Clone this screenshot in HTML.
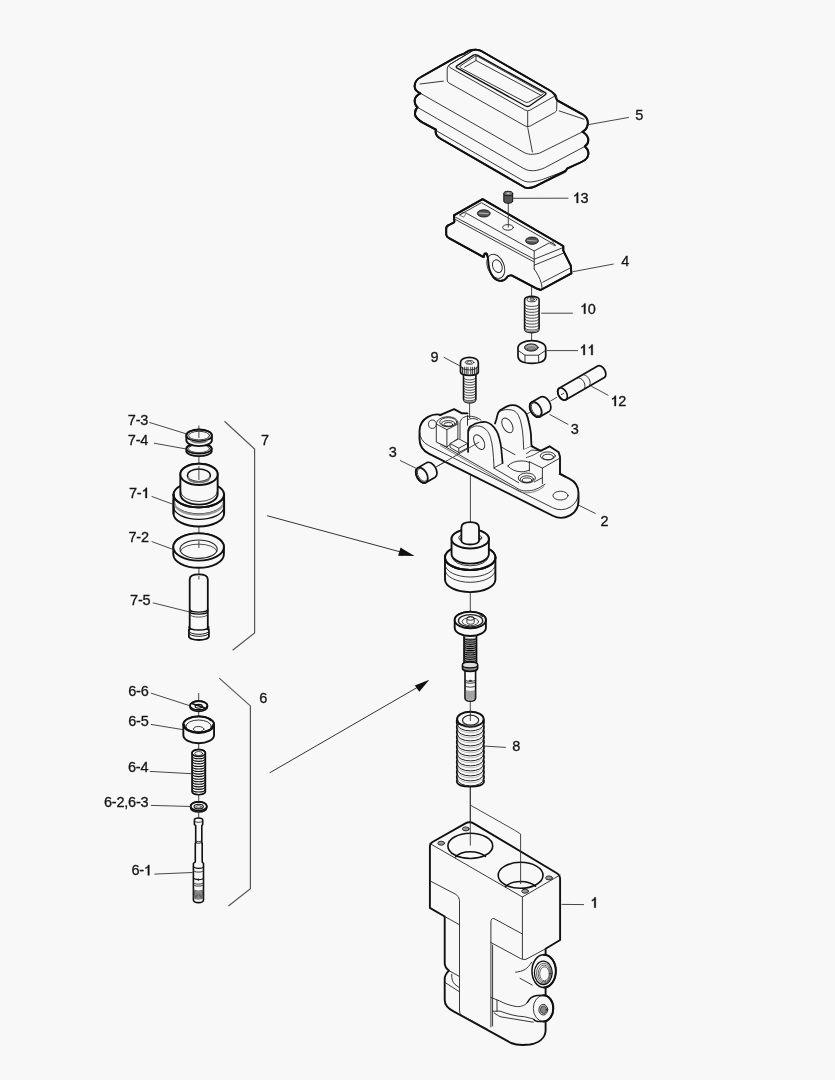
<!DOCTYPE html>
<html><head><meta charset="utf-8"><style>
html,body{margin:0;padding:0;background:#f8f8f8;}
svg{display:block;}
text{font-family:"Liberation Sans",sans-serif;font-size:14.5px;letter-spacing:-0.2px;fill:#151515;stroke:#151515;stroke-width:0.3px;}
.o{stroke:#111;stroke-width:1.9;fill:#f8f8f8;stroke-linejoin:round;stroke-linecap:round;}
.t{stroke:#222;stroke-width:0.9;fill:none;stroke-linejoin:round;stroke-linecap:round;}
.f{stroke:#222;stroke-width:0.9;fill:#f8f8f8;stroke-linejoin:round;}
.l{stroke:#333;stroke-width:0.9;fill:none;}
.b{stroke:#555;stroke-width:1.2;fill:none;}
.d{fill:#555;stroke:#111;stroke-width:0.9;}
</style></head><body>
<svg width="835" height="1080" viewBox="0 0 835 1080">
<rect width="835" height="1080" fill="#f8f8f8"/>

<path d="M420.4,93.3 C416.5,91.5 414.5,89 414.6,86 C414.7,82 417,79 421,77 L456.5,56.8 C460,55 462,54.5 464,53.8 C467,51 471,49.6 476,49.7 C478.5,49.8 480,50.3 481.7,51.2 L549,90 C552.5,92 555.5,94 556,98.5 L557.2,100.3 L582.5,114.3 C586.5,117 588.5,121 587.6,125 C587,128 585,130.5 582.5,131.8 C586,134 588.5,137 588.3,140.5 C588.2,143 587,145 584.9,146.4 C587.5,148.5 588.6,151 588.4,154 C588,158 585,160.5 581.5,162 L567,168.7 L566,170.7 L535.8,186.2 C532,188 528,188.6 524.5,187.3 L441,139 C437.5,137 435.5,134.5 435.6,131.5 L435.9,129.6 L423.7,123.2 C419,120.5 415.5,118 415,114.5 C414.7,111 415.5,109 417.6,107.4 C415.2,105.5 414.5,103 414.7,100.2 C415,97.5 417,95 420.4,93.3 Z" class="o" />
<path d="M420.4,93.3 L524,152.5 C527,154 530,154.5 532.3,154.3 C535,154.2 537.5,153.7 539.7,153.1 L582.5,131.8" class="t" />
<path d="M417.6,107.4 L524,168.7 C527,170.3 530.5,170.9 533.5,170.7 C537,170.5 541,169.5 544.6,167.8 L584.9,146.4" class="t" />
<path d="M436,130.5 L522.8,180.5 C525.5,181.8 529,182.2 532,181.9 C536,181.3 539.5,180.5 542.6,179.4 L566,170.7" class="t" />
<path d="M565.5,172.3 L548,180.6" class="t" />
<line x1="420.1" y1="84" x2="443.4" y2="81.1" class="t"/>
<line x1="559.2" y1="110.9" x2="584" y2="119.2" class="t"/>
<path d="M527.9,128.5 L532.4,152" class="t" />
<path d="M447.2,69 Q447.2,66 449.77,64.46 L472.87,50.65 Q476.3,48.6 479.77,50.59 L554.4,93.31 Q557,94.8 556.93,97.8 L556.65,109.5 Q556.6,111.5 554.85,112.46 L530.33,125.95 Q527.7,127.4 525.09,125.93 L448.94,82.98 Q447.2,82 447.2,80 Z" class="f" />
<path d="M449.81,67.48 Q447.2,66 449.77,64.46 L472.87,50.65 Q476.3,48.6 479.77,50.59 L554.4,93.31 Q557,94.8 554.39,96.29 L530.31,110.01 Q527.7,111.5 525.09,110.02 Z" class="t" />
<line x1="527.7" y1="111.5" x2="527.7" y2="127.4" class="t"/>
<path d="M457.29,68.21 Q455.1,67 457.2,65.64 L473.1,55.36 Q475.2,54 477.39,55.21 L544.81,92.39 Q547,93.6 544.96,95.04 L529.74,105.76 Q527.7,107.2 525.51,105.99 Z" class="t" style="stroke-width:1.4;stroke:#111"/>
<path d="M460.47,67.93 Q458.7,67 460.37,65.89 L474.33,56.61 Q476,55.5 477.75,56.48 L542.45,92.62 Q544.2,93.6 542.44,94.56 L528.76,102.04 Q527,103 525.23,102.07 Z" class="t" />
<polyline points="464.5,67.2 476,60.5 541,95.3" class="t"/>
<line x1="476" y1="55.5" x2="476" y2="60.5" class="t"/>
<path d="M420.4,93.3 C416.5,91.5 414.5,89 414.6,86 C414.7,82 417,79 421,77 L456.5,56.8 C460,55 462,54.5 464,53.8 C467,51 471,49.6 476,49.7 C478.5,49.8 480,50.3 481.7,51.2 L549,90 C552.5,92 555.5,94 556,98.5 L557.2,100.3 L582.5,114.3 C586.5,117 588.5,121 587.6,125 C587,128 585,130.5 582.5,131.8 C586,134 588.5,137 588.3,140.5 C588.2,143 587,145 584.9,146.4 C587.5,148.5 588.6,151 588.4,154 C588,158 585,160.5 581.5,162 L567,168.7 L566,170.7 L535.8,186.2 C532,188 528,188.6 524.5,187.3 L441,139 C437.5,137 435.5,134.5 435.6,131.5 L435.9,129.6 L423.7,123.2 C419,120.5 415.5,118 415,114.5 C414.7,111 415.5,109 417.6,107.4 C415.2,105.5 414.5,103 414.7,100.2 C415,97.5 417,95 420.4,93.3 Z" class="o" style="fill:none"/>
<path d="M453.9,215.4 L482.6,199.1 L561.1,244.7 L563.3,246.3 L563.3,250.7 L570.8,265.7 L571.4,273.3 L540.7,290 L536.3,288.4 L511.6,275.4 C509,275 507.5,276 506,278.5 C504,281 500,281.5 497,280 C492,277.5 489,270 488.5,264 C488.2,260 488.5,257 486.5,253.5 L484.6,253.8 L483.6,257.1 L449,238.2 C447,237 446.2,236 446.2,234.5 L446.2,228.5 C446.3,226.5 447.5,225.5 449,225 L453.6,222.6 L454.4,221.6 Z" class="o" />
<ellipse cx="495.8" cy="266.3" rx="8.2" ry="12.6" transform="rotate(-22 495.8 266.3)" class="f"/>
<ellipse cx="497.3" cy="266.2" rx="4.6" ry="6.6" transform="rotate(-22 497.3 266.2)" class="t"/>
<polyline points="460.3,214.6 481.4,202.7 555.7,245.3" class="t"/>
<polyline points="466.5,213.3 534.2,251 549,243" class="t"/>
<polyline points="455.5,217.2 534.2,259.2 563.3,247.5" class="t"/>
<line x1="455.5" y1="219.6" x2="534.2" y2="262" class="t"/>
<line x1="534.2" y1="251" x2="534.2" y2="269" class="t"/>
<line x1="534.2" y1="265.2" x2="564.4" y2="252.8" class="t"/>
<path d="M534.2,269 C537,273 540,278 541.5,284 L542.3,289.5" class="t" />
<line x1="542.8" y1="282.2" x2="569.8" y2="268.2" class="t"/>
<path d="M459.6,214.9 L462.5,212.5 L466.3,213 L464,216.8 Z" class="t" style="stroke-width:0.6"/>
<path d="M550,243.2 L553,241.6 L555,245.6 Z" class="t" style="stroke-width:0.6"/>
<ellipse cx="483.8" cy="213.4" rx="6.4" ry="3.6" class="d" />
<path d="M479.3,213.1 L488.3,213.7" class="t" style="stroke:#aaa;stroke-width:1.2"/>
<ellipse cx="532" cy="240.7" rx="6.4" ry="3.6" class="d" />
<path d="M527.5,240.4 L536.5,241" class="t" style="stroke:#aaa;stroke-width:1.2"/>
<ellipse cx="508" cy="227.4" rx="5.4" ry="2.8" class="t" />
<path d="M453.9,215.4 L482.6,199.1 L561.1,244.7 L563.3,246.3 L563.3,250.7 L570.8,265.7 L571.4,273.3 L540.7,290 L536.3,288.4 L511.6,275.4 C509,275 507.5,276 506,278.5 C504,281 500,281.5 497,280 C492,277.5 489,270 488.5,264 C488.2,260 488.5,257 486.5,253.5 L484.6,253.8 L483.6,257.1 L449,238.2 C447,237 446.2,236 446.2,234.5 L446.2,228.5 C446.3,226.5 447.5,225.5 449,225 L453.6,222.6 L454.4,221.6 Z" class="o" style="fill:none"/>
<line x1="508.3" y1="203" x2="508.3" y2="227.5" class="l"/>
<path d="M503.8,193.5 L503.8,201 A4.45,2.2 0 0 0 512.7,201 L512.7,193.5 Z" fill="#555" stroke="#111" stroke-width="1"/>
<ellipse cx="508.25" cy="193.5" rx="4.45" ry="2.2" class="t" style="fill:#777;stroke:#111;stroke-width:1"/>
<path d="M506.3,193.2 L508.2,192.3 L510.2,193.2 L508.2,194.4 Z" class="t" style="fill:#bbb;stroke:none"/>
<line x1="531.6" y1="287" x2="531.6" y2="296.5" class="l"/>
<line x1="531.6" y1="332.5" x2="531.6" y2="341" class="l"/>
<path d="M524.6,299.6 L524.6,328.5 Q524.8,332.6 531.85,332.6 Q538.9,332.6 539.1,328.5 L539.1,299.6 A7.25,3.3 0 0 0 524.6,299.6 Z" class="o" style="stroke-width:1.6"/>
<path d="M525,304.5 A6.9,2.2 0 0 0 538.7,304.5" class="t" style="stroke-width:0.8"/>
<path d="M525,307.45 A6.9,2.2 0 0 0 538.7,307.45" class="t" style="stroke-width:0.8"/>
<path d="M525,310.4 A6.9,2.2 0 0 0 538.7,310.4" class="t" style="stroke-width:0.8"/>
<path d="M525,313.35 A6.9,2.2 0 0 0 538.7,313.35" class="t" style="stroke-width:0.8"/>
<path d="M525,316.3 A6.9,2.2 0 0 0 538.7,316.3" class="t" style="stroke-width:0.8"/>
<path d="M525,319.25 A6.9,2.2 0 0 0 538.7,319.25" class="t" style="stroke-width:0.8"/>
<path d="M525,322.2 A6.9,2.2 0 0 0 538.7,322.2" class="t" style="stroke-width:0.8"/>
<path d="M525,325.15 A6.9,2.2 0 0 0 538.7,325.15" class="t" style="stroke-width:0.8"/>
<path d="M525,328.1 A6.9,2.2 0 0 0 538.7,328.1" class="t" style="stroke-width:0.8"/>
<path d="M525.5,330 A6.5,2 0 0 0 538.2,330" class="t" style="stroke:#888;stroke-width:1.6"/>
<ellipse cx="531.85" cy="299.6" rx="4.8" ry="2.2" class="t" />
<ellipse cx="532.2" cy="299.4" rx="2.3" ry="1.2" class="t" style="fill:#aaa;stroke-width:0.6"/>
<path d="M518,347.8 L518,356.5 Q518.5,363.3 531.85,363.3 Q545.2,363.3 545.7,356.5 L545.7,347.8 A13.85,7.2 0 0 0 518,347.8 Z" class="o" style="stroke-width:1.7"/>
<polyline points="518.2,350.5 525,355.2 538.6,355.2 545.5,350.5" class="t"/>
<line x1="525" y1="355.2" x2="525" y2="362.2" class="t"/>
<line x1="538.6" y1="355.2" x2="538.6" y2="362.2" class="t"/>
<ellipse cx="531.3" cy="347.5" rx="6.8" ry="3.6" class="t" style="fill:#8a8a8a;stroke:#111;stroke-width:1"/>
<path d="M527,347.2 A4.3,1.8 0 0 1 535.6,347.2" class="t" style="stroke:#ccc;stroke-width:0.8"/>
<path d="M527.2,348.6 A4.1,1.8 0 0 0 535.4,348.6" class="t" style="stroke:#444;stroke-width:0.8"/>
<line x1="469.6" y1="402.8" x2="469.6" y2="418" class="l"/>
<path d="M463.5,374 L463.5,399 Q463.8,402.9 469.7,402.9 Q475.6,402.9 475.9,399 L475.9,374 Z" class="o" style="stroke-width:1.6"/>
<path d="M463.9,378.2 A5.8,1.7 0 0 0 475.5,378.2" class="t" style="stroke-width:0.8"/>
<path d="M463.9,380.8 A5.8,1.7 0 0 0 475.5,380.8" class="t" style="stroke-width:0.8"/>
<path d="M463.9,383.4 A5.8,1.7 0 0 0 475.5,383.4" class="t" style="stroke-width:0.8"/>
<path d="M463.9,386 A5.8,1.7 0 0 0 475.5,386" class="t" style="stroke-width:0.8"/>
<path d="M463.9,388.6 A5.8,1.7 0 0 0 475.5,388.6" class="t" style="stroke-width:0.8"/>
<path d="M463.9,391.2 A5.8,1.7 0 0 0 475.5,391.2" class="t" style="stroke-width:0.8"/>
<path d="M463.9,393.8 A5.8,1.7 0 0 0 475.5,393.8" class="t" style="stroke-width:0.8"/>
<path d="M463.9,396.4 A5.8,1.7 0 0 0 475.5,396.4" class="t" style="stroke-width:0.8"/>
<path d="M463.9,399 A5.8,1.7 0 0 0 475.5,399" class="t" style="stroke-width:0.8"/>
<path d="M464.5,400.3 A5.2,1.6 0 0 0 474.9,400.3" class="t" style="stroke:#888;stroke-width:1.5"/>
<path d="M460.5,362.4 L460.5,372 Q461,375.3 469.4,375.3 Q477.8,375.3 478.3,372 L478.3,362.4 A8.9,5 0 0 0 460.5,362.4 Z" class="o" style="stroke-width:1.7"/>
<line x1="462.5" y1="367.2" x2="462.5" y2="374.3" class="t"/>
<line x1="464.3" y1="367.2" x2="464.3" y2="374.3" class="t"/>
<line x1="466.2" y1="367.2" x2="466.2" y2="374.3" class="t"/>
<line x1="468" y1="367.2" x2="468" y2="374.3" class="t"/>
<line x1="470.8" y1="367.2" x2="470.8" y2="374.3" class="t"/>
<line x1="472.6" y1="367.2" x2="472.6" y2="374.3" class="t"/>
<line x1="474.5" y1="367.2" x2="474.5" y2="374.3" class="t"/>
<line x1="476.3" y1="367.2" x2="476.3" y2="374.3" class="t"/>
<path d="M460.8,366.5 A8.6,3.4 0 0 0 478,366.5" class="t" />
<ellipse cx="469.5" cy="362.4" rx="4.3" ry="1.9" class="t" />
<path d="M467.3,361.9 L469.5,361.1 L471.6,361.9 L471.6,362.9 L469.5,363.7 L467.3,362.9 Z" class="t" style="stroke-width:0.6;fill:#eee"/>
<line x1="436" y1="467" x2="479" y2="442.3" class="l"/>
<line x1="514" y1="421.5" x2="530" y2="412.3" class="l"/>
<line x1="550.5" y1="401" x2="557" y2="397.2" class="l"/>
<path d="M531.5,402.23 L540.68,396.93 A5.21,8.4 -30 0 1 549.08,411.47 L539.9,416.77 A5.21,8.4 -30 0 1 531.5,402.23 Z" class="o" style="stroke-width:1.7"/>
<ellipse cx="535.7" cy="409.5" rx="5.21" ry="8.4" transform="rotate(-30 535.7 409.5)" class="t" style="stroke-width:1.6;stroke:#111"/>
<ellipse cx="536.3" cy="409.2" rx="4.2" ry="7" transform="rotate(-30 536.3 409.2)" class="t" style="stroke-width:0.8"/>
<path d="M417.6,467.93 L426.78,462.63 A5.21,8.4 -30 0 1 435.18,477.17 L426,482.47 A5.21,8.4 -30 0 1 417.6,467.93 Z" class="o" style="stroke-width:1.7"/>
<ellipse cx="421.8" cy="475.2" rx="5.21" ry="8.4" transform="rotate(-30 421.8 475.2)" class="t" style="stroke-width:1.6;stroke:#111"/>
<ellipse cx="422.4" cy="474.9" rx="4.2" ry="7" transform="rotate(-30 422.4 474.9)" class="t" style="stroke-width:0.8"/>
<path d="M559.15,388.2 L597.69,365.95 A4.15,6.7 -30 0 1 604.39,377.55 L565.85,399.8 A4.15,6.7 -30 0 1 559.15,388.2 Z" class="o" style="stroke-width:1.7"/>
<ellipse cx="562.5" cy="394" rx="4.15" ry="6.7" transform="rotate(-30 562.5 394)" class="t" style="stroke-width:1.6;stroke:#111"/>
<path d="M576.9,377.95 A4.15,6.7 -30 0 1 583.6,389.55" class="t" />
<path d="M582.1,374.95 A4.15,6.7 -30 0 1 588.8,386.55" class="t" />
<line x1="561" y1="394.8" x2="564" y2="393.2" class="l"/>
<path d="M445.22,416.43 L569.22,478.63 A17.5,16.5 0 0 1 578.50,493.20 L578.50,501.20 A17.5,16.5 0 0 1 552.78,515.77 L428.78,453.57 A17.5,16.5 0 0 1 419.50,439.00 L419.50,431.00 A17.5,16.5 0 0 1 445.22,416.43 Z" class="o" />
<path d="M578.50,493.20 A17.5,16.5 0 0 1 552.78,507.77 L428.78,445.57 A17.5,16.5 0 0 1 419.50,431.00" class="t" />
<path d="M437.8,442.4 L514.4,486.6 C518,489 521,490.6 523.6,490.8 C528,491.1 531,490.7 533.7,490 C537,489 540,487.5 542,486 L545,484.3" class="t" />
<path d="M440.5,445.6 L513.5,488.3 C517.5,491 521,492.6 524,492.8 C528.5,493 532,492.5 535,491.5 C538.5,490.3 541.5,488.5 544,486.5" class="t" style="stroke:#555;stroke-width:0.7"/>
<ellipse cx="560.5" cy="495.6" rx="7.6" ry="4.4" class="t" />
<ellipse cx="432.5" cy="424.2" rx="4" ry="4.2" class="t" />
<path d="M441.6,414.6 L454.1,409.1 L462,413.3 L462,428 L441.6,428 Z" class="f" style="stroke:none"/>
<polyline points="440,415.2 454.1,409.1 462,413.3 467.5,413.4" class="o"/>
<path d="M495,423.5 L496.4,419.2 C497,416.5 497.5,414.5 498.3,412.5 C499.5,410.5 501,409.5 503.1,408.6 C505.5,407 507.5,406 509.8,405.3 C511.5,405 513.8,405 515.6,405.3 C517.8,406 519.8,407.2 521.3,408.6 C523.3,410.2 525,411.8 526.1,413.4 C527.5,416.5 528.4,419.5 529,423 C529.8,426.5 530.5,430 530.9,433.5 L531.4,445 L532.8,446.9 L536,470 L500,470 L495,440 Z" class="f" style="stroke:none"/>
<path d="M495,423.5 L496.4,419.2 C497,416.5 497.5,414.5 498.3,412.5 C499.5,410.5 501,409.5 503.1,408.6 C505.5,407 507.5,406 509.8,405.3 C511.5,405 513.8,405 515.6,405.3 C517.8,406 519.8,407.2 521.3,408.6 C523.3,410.2 525,411.8 526.1,413.4 C527.5,416.5 528.4,419.5 529,423 C529.8,426.5 530.5,430 530.9,433.5 L531.4,445 L532.8,446.9" class="o" style="fill:none;stroke-width:1.8"/>
<path d="M499.3,411.6 C501.5,410.2 504.5,409.5 507.9,409.6 C510,409.6 512,410 513.6,410.5 C515.5,411.5 517.2,413.2 518.4,415.3 C519.8,418 520.7,421 521.3,424 C522.3,428.5 522.9,433.5 523.2,438.3 L523.7,449.8" class="t" />
<ellipse cx="507.4" cy="425.4" rx="4.62" ry="8" transform="rotate(-30 507.4 425.4)" class="t" />
<line x1="502.1" y1="447.4" x2="524.7" y2="460.3" class="t"/>
<line x1="523.7" y1="449.8" x2="531.8" y2="446" class="t"/>
<line x1="526.5" y1="453.6" x2="526.5" y2="462.3" class="t"/>
<path d="M494,468 L503,462.5 L522.7,450.1 L531.9,446.3 L540.7,450.9 L549.5,446.3 L558.7,452.2 L560,456.8 L560,473.5 L542.4,483.6 L534.4,481.9 L519.3,481.9 Z" class="f" style="stroke:none"/>
<path d="M526.5,453.6 L536,446.8 L540.7,450.9 L526.5,458 Z" class="f" style="stroke:none"/>
<polyline points="531.9,446.3 540.7,450.9 549.5,446.3 558.7,452.2 560,456.8 560,473.5 565,476.5" class="o"/>
<polyline points="529.4,461.8 542.4,468.1 560,458" class="t"/>
<line x1="542.4" y1="468.1" x2="542.4" y2="483.6" class="t"/>
<line x1="529.4" y1="461.8" x2="529.4" y2="471" class="t"/>
<path d="M526.5,453.6 L531.8,450 L540.7,450.9" class="t" />
<path d="M526.5,457.5 C530,456.5 534,455 537,453 C538.5,452 539.8,451.5 540.7,450.9" class="t" style="stroke-width:0.8"/>
<ellipse cx="547.8" cy="455.9" rx="7.5" ry="4" class="t" />
<ellipse cx="548" cy="457" rx="5.5" ry="2.8" class="t" />
<path d="M507.7,466 C511,462.5 515.5,461 521,460.9 C524.5,460.9 527.5,461.5 529.5,462.5" class="t" />
<path d="M507.7,466 C511,469.5 515.5,471.6 521,471.8 C524.5,471.8 527.5,471 529.5,470" class="t" />
<polyline points="534.4,481.9 542.4,477.7" class="t"/>
<line x1="494.3" y1="468.4" x2="518.6" y2="482.7" class="t"/>
<ellipse cx="526.8" cy="478" rx="8.6" ry="5" class="f" />
<ellipse cx="526.8" cy="479.2" rx="6.6" ry="3.4" class="t" />
<ellipse cx="527" cy="480.1" rx="4.7" ry="2.2" class="t" />
<path d="M460,421 L460,438.3 L481,438.3 L481,421 Z" class="f" style="stroke:none"/>
<path d="M460,438.3 L460,423 C460.5,418.5 464,416.5 468,416.2 C473,416 478,417.5 481,420" class="t" />
<line x1="467.5" y1="415.6" x2="467.5" y2="425.4" class="t"/>
<path d="M467.5,420 C470,418 475,418 478,420" class="t" />
<path d="M436.3,424 C437,419.5 441,417.2 447,416.8 C452,416.6 456.5,418 457.9,422 L457.9,438.3 L446.9,446.9 L436.3,442.1 Z" class="f" />
<polyline points="436.3,424 446.9,429.7 457.9,424" class="t"/>
<line x1="446.9" y1="429.7" x2="446.9" y2="446.9" class="t"/>
<ellipse cx="448.3" cy="422.2" rx="8.6" ry="4.6" class="t" />
<ellipse cx="448.3" cy="423.5" rx="6.7" ry="2.9" class="t" />
<ellipse cx="448.3" cy="424.4" rx="4.3" ry="1.9" class="t" />
<path d="M450.1,443.5 L458.8,438.8 L467.5,443.5 L467.5,448 L458.8,452.5 L450.1,447.4 Z" class="f" />
<polyline points="450.1,443.5 458.8,448.2 467.5,443.5" class="t"/>
<line x1="458.8" y1="448.2" x2="458.8" y2="452.5" class="t"/>
<path d="M468.1,452 L468.1,431 C468.6,428 470,426.5 471.5,425.9 C474,424 476.5,423 479.2,422.5 C481.5,422 484,421.8 485.9,422 C488,422.5 490,423.5 491.6,424.9 C493.5,426.5 495,428.5 496.4,430.7 C497.7,433 498.6,435.5 499.3,438.3 C500.2,441.5 500.8,444.5 501.2,447.9 L502.6,463.2 L494,467.8 L468.1,453 Z" class="f" style="stroke:none"/>
<path d="M468.1,452 L468.1,431 C468.6,428 470,426.5 471.5,425.9 C474,424 476.5,423 479.2,422.5 C481.5,422 484,421.8 485.9,422 C488,422.5 490,423.5 491.6,424.9 C493.5,426.5 495,428.5 496.4,430.7 C497.7,433 498.6,435.5 499.3,438.3 C500.2,441.5 500.8,444.5 501.2,447.9 L502.6,463.2" class="o" style="fill:none;stroke-width:1.7"/>
<path d="M468.3,432.6 C469.2,430 470.3,428.6 471.5,427.8 C473.5,426.5 475.5,425.9 477.2,425.9 C479.5,425.9 481.5,426.5 483,427.3 C485,428.5 486.6,430 487.8,431.6 C489.3,434 490.2,436 490.7,438.3 C491.6,441.5 492.2,444.7 492.6,447.9 L493.5,457.5 L494,467.8" class="t" />
<line x1="494" y1="467.8" x2="502.6" y2="463.2" class="t"/>
<ellipse cx="479.2" cy="442.1" rx="4.62" ry="8" transform="rotate(-30 479.2 442.1)" class="t" />
<line x1="437.5" y1="466.2" x2="479.2" y2="442.1" class="l"/>
<line x1="470.4" y1="475" x2="470.4" y2="522.5" class="l"/>
<line x1="470.3" y1="592" x2="470.3" y2="612" class="l"/>
<line x1="470.3" y1="701" x2="470.3" y2="713" class="l"/>
<line x1="470.3" y1="787" x2="470.3" y2="838" class="l"/>
<path d="M445,557.4 L445,579.6 A25.2,12.5 0 0 0 495.4,579.6 L495.4,557.4 A25.2,12.5 0 0 0 445,557.4 Z" class="o"/>
<path d="M445,557.4 A25.2,12.5 0 0 0 495.4,557.4" class="t" style="stroke-width:2;stroke:#111"/>
<path d="M445,564.5 A25.2,12.5 0 0 0 495.4,564.5" class="t" />
<path d="M445,569.8 A25.2,12.5 0 0 0 495.4,569.8" class="t" />
<ellipse cx="470.2" cy="557.4" rx="25.2" ry="12.5" class="f" style="stroke:#111;stroke-width:1.9"/>
<path d="M445,557.4 A25.2,12.5 0 0 0 495.4,557.4" class="t" style="stroke-width:2;stroke:#111"/>
<path d="M451.55,538.9 L451.55,554 A18.65,9.6 0 0 0 488.85,554 L488.85,538.9 A18.65,9.6 0 0 0 451.55,538.9 Z" class="o"/>
<path d="M452,556.5 A18.2,9.3 0 0 0 488.4,556.5" class="t" />
<ellipse cx="470.2" cy="538.9" rx="18.65" ry="9.6" class="f" style="stroke:#111;stroke-width:1.9"/>
<ellipse cx="470.2" cy="537.9" rx="11.5" ry="4.9" class="t" />
<ellipse cx="470.2" cy="538.6" rx="10" ry="3.8" class="t" style="stroke-width:0.7"/>
<path d="M461.4,541 L461.4,527.6 C461.4,524 465,522.1 470.2,522.1 C475.4,522.1 479,524 479,527.6 L479,541 A8.8,3.5 0 0 1 461.4,541 Z" class="o" style="stroke-width:1.8"/>
<path d="M465,669 L465,698 Q465.3,701.3 470.3,701.3 Q475.3,701.3 475.6,698 L475.6,669 Z" class="o" style="stroke-width:1.6"/>
<path d="M465,679.8 A5.3,1.6 0 0 0 475.6,679.8" class="t" />
<path d="M465,681.7 A5.3,1.6 0 0 0 475.6,681.7" class="t" />
<path d="M465,685.6 A5.3,1.6 0 0 0 475.6,685.6" class="t" />
<ellipse cx="470.3" cy="680.8" rx="0.9" ry="0.6" class="t" style="fill:#333"/>
<path d="M465.3,690 A5,1.4 0 0 0 475.3,690" class="t" style="stroke:#555;stroke-width:0.6"/>
<path d="M465.3,691 A5,1.4 0 0 0 475.3,691" class="t" style="stroke:#555;stroke-width:0.6"/>
<path d="M465.3,692 A5,1.4 0 0 0 475.3,692" class="t" style="stroke:#555;stroke-width:0.6"/>
<path d="M465.3,693 A5,1.4 0 0 0 475.3,693" class="t" style="stroke:#555;stroke-width:0.6"/>
<path d="M465.3,694 A5,1.4 0 0 0 475.3,694" class="t" style="stroke:#555;stroke-width:0.6"/>
<path d="M465.3,695 A5,1.4 0 0 0 475.3,695" class="t" style="stroke:#555;stroke-width:0.6"/>
<path d="M465.3,696 A5,1.4 0 0 0 475.3,696" class="t" style="stroke:#555;stroke-width:0.6"/>
<path d="M465.3,697 A5,1.4 0 0 0 475.3,697" class="t" style="stroke:#555;stroke-width:0.6"/>
<path d="M465.3,698 A5,1.4 0 0 0 475.3,698" class="t" style="stroke:#555;stroke-width:0.6"/>
<path d="M464,633 L464,664 L476.6,664 L476.6,633 Z" class="o" style="stroke-width:1.5"/>
<path d="M464.4,637.1 A5.9,1.7 0 0 0 476.2,637.1" class="t" style="stroke:#555;stroke-width:0.7"/>
<path d="M464.1,638 A6.2,2 0 0 0 476.5,638" class="t" style="stroke:#000;stroke-width:1.3"/>
<path d="M464.4,639.25 A5.9,1.7 0 0 0 476.2,639.25" class="t" style="stroke:#555;stroke-width:0.7"/>
<path d="M464.1,640.15 A6.2,2 0 0 0 476.5,640.15" class="t" style="stroke:#000;stroke-width:1.3"/>
<path d="M464.4,641.4 A5.9,1.7 0 0 0 476.2,641.4" class="t" style="stroke:#555;stroke-width:0.7"/>
<path d="M464.1,642.3 A6.2,2 0 0 0 476.5,642.3" class="t" style="stroke:#000;stroke-width:1.3"/>
<path d="M464.4,643.55 A5.9,1.7 0 0 0 476.2,643.55" class="t" style="stroke:#555;stroke-width:0.7"/>
<path d="M464.1,644.45 A6.2,2 0 0 0 476.5,644.45" class="t" style="stroke:#000;stroke-width:1.3"/>
<path d="M464.4,645.7 A5.9,1.7 0 0 0 476.2,645.7" class="t" style="stroke:#555;stroke-width:0.7"/>
<path d="M464.1,646.6 A6.2,2 0 0 0 476.5,646.6" class="t" style="stroke:#000;stroke-width:1.3"/>
<path d="M464.4,647.85 A5.9,1.7 0 0 0 476.2,647.85" class="t" style="stroke:#555;stroke-width:0.7"/>
<path d="M464.1,648.75 A6.2,2 0 0 0 476.5,648.75" class="t" style="stroke:#000;stroke-width:1.3"/>
<path d="M464.4,650 A5.9,1.7 0 0 0 476.2,650" class="t" style="stroke:#555;stroke-width:0.7"/>
<path d="M464.1,650.9 A6.2,2 0 0 0 476.5,650.9" class="t" style="stroke:#000;stroke-width:1.3"/>
<path d="M464.4,652.15 A5.9,1.7 0 0 0 476.2,652.15" class="t" style="stroke:#555;stroke-width:0.7"/>
<path d="M464.1,653.05 A6.2,2 0 0 0 476.5,653.05" class="t" style="stroke:#000;stroke-width:1.3"/>
<path d="M464.4,654.3 A5.9,1.7 0 0 0 476.2,654.3" class="t" style="stroke:#555;stroke-width:0.7"/>
<path d="M464.1,655.2 A6.2,2 0 0 0 476.5,655.2" class="t" style="stroke:#000;stroke-width:1.3"/>
<path d="M464.4,656.45 A5.9,1.7 0 0 0 476.2,656.45" class="t" style="stroke:#555;stroke-width:0.7"/>
<path d="M464.1,657.35 A6.2,2 0 0 0 476.5,657.35" class="t" style="stroke:#000;stroke-width:1.3"/>
<path d="M464.4,658.6 A5.9,1.7 0 0 0 476.2,658.6" class="t" style="stroke:#555;stroke-width:0.7"/>
<path d="M464.1,659.5 A6.2,2 0 0 0 476.5,659.5" class="t" style="stroke:#000;stroke-width:1.3"/>
<path d="M464.4,660.75 A5.9,1.7 0 0 0 476.2,660.75" class="t" style="stroke:#555;stroke-width:0.7"/>
<path d="M464.1,661.65 A6.2,2 0 0 0 476.5,661.65" class="t" style="stroke:#000;stroke-width:1.3"/>
<path d="M464.4,662.9 A5.9,1.7 0 0 0 476.2,662.9" class="t" style="stroke:#555;stroke-width:0.7"/>
<path d="M464.1,663.8 A6.2,2 0 0 0 476.5,663.8" class="t" style="stroke:#000;stroke-width:1.3"/>
<path d="M462.5,665 L462.5,668.5 A7.55,2.8 0 0 0 477.6,668.5 L477.6,665 A7.55,2.8 0 0 0 462.5,665 Z" class="o" style="stroke-width:1.7;fill:#888"/>
<ellipse cx="470.05" cy="665" rx="7.55" ry="2.8" class="t" style="fill:#ddd;stroke:#111;stroke-width:1.2"/>
<path d="M454.7,620 L454.7,627.7 A15.6,8.3 0 0 0 485.9,627.7 L485.9,620 A15.6,8.3 0 0 0 454.7,620 Z" class="o"/>
<ellipse cx="470.3" cy="620" rx="15.6" ry="8.3" class="f" style="stroke:#111;stroke-width:1.9"/>
<ellipse cx="470.6" cy="620.7" rx="12.2" ry="6.1" class="t" style="stroke-width:1.3"/>
<ellipse cx="470.4" cy="621.6" rx="8.2" ry="4.1" class="t" style="stroke-width:0.8"/>
<path d="M466.9,622.5 L466.9,618.5 A3.65,1.8 0 0 1 474.2,618.5 L474.2,622.5 A3.65,1.8 0 0 1 466.9,622.5 Z" class="f" style="stroke-width:0.9"/>
<ellipse cx="470.55" cy="618.5" rx="3.65" ry="1.8" class="t" />
<path d="M480,614.5 L482.5,616.5" class="t" style="stroke-width:1.2"/>
<path d="M457.1,719.2 Q456.2,721.90 457.3,724.60 Q456.2,727.10 457.3,729.60 Q456.2,732.10 457.3,734.60 Q456.2,737.10 457.3,739.60 Q456.2,742.10 457.3,744.60 Q456.2,747.10 457.3,749.60 Q456.2,752.10 457.3,754.60 Q456.2,757.10 457.3,759.60 Q456.2,762.10 457.3,764.60 Q456.2,767.10 457.3,769.60 Q456.2,772.10 457.3,774.60 Q456.2,777.10 457.3,779.60 Q456.2,781.30 457.3,783.00 A13.2,4.2 0 0 0 483.5,783 Q484.6,781.30 483.5,779.60 Q484.6,777.10 483.5,774.60 Q484.6,772.10 483.5,769.60 Q484.6,767.10 483.5,764.60 Q484.6,762.10 483.5,759.60 Q484.6,757.10 483.5,754.60 Q484.6,752.10 483.5,749.60 Q484.6,747.10 483.5,744.60 Q484.6,742.10 483.5,739.60 Q484.6,737.10 483.5,734.60 Q484.6,732.10 483.5,729.60 Q484.6,727.10 483.5,724.60 Q484.6,721.90 483.5,719.20 A13.3,7.5 0 0 0 457.1,719.2 Z" class="o" style="stroke-width:1.7"/>
<path d="M458.5,722.4 A11.9,5.4 0 0 0 482.3,722.4" class="t" style="stroke:#999;stroke-width:0.6"/>
<path d="M457.4,724.6 A13,6.3 0 0 0 483.4,724.6" class="t" style="stroke:#222;stroke-width:1.0"/>
<path d="M458.5,727.4 A11.9,5.4 0 0 0 482.3,727.4" class="t" style="stroke:#999;stroke-width:0.6"/>
<path d="M457.4,729.6 A13,6.3 0 0 0 483.4,729.6" class="t" style="stroke:#222;stroke-width:1.0"/>
<path d="M458.5,732.4 A11.9,5.4 0 0 0 482.3,732.4" class="t" style="stroke:#999;stroke-width:0.6"/>
<path d="M457.4,734.6 A13,6.3 0 0 0 483.4,734.6" class="t" style="stroke:#222;stroke-width:1.0"/>
<path d="M458.5,737.4 A11.9,5.4 0 0 0 482.3,737.4" class="t" style="stroke:#999;stroke-width:0.6"/>
<path d="M457.4,739.6 A13,6.3 0 0 0 483.4,739.6" class="t" style="stroke:#222;stroke-width:1.0"/>
<path d="M458.5,742.4 A11.9,5.4 0 0 0 482.3,742.4" class="t" style="stroke:#999;stroke-width:0.6"/>
<path d="M457.4,744.6 A13,6.3 0 0 0 483.4,744.6" class="t" style="stroke:#222;stroke-width:1.0"/>
<path d="M458.5,747.4 A11.9,5.4 0 0 0 482.3,747.4" class="t" style="stroke:#999;stroke-width:0.6"/>
<path d="M457.4,749.6 A13,6.3 0 0 0 483.4,749.6" class="t" style="stroke:#222;stroke-width:1.0"/>
<path d="M458.5,752.4 A11.9,5.4 0 0 0 482.3,752.4" class="t" style="stroke:#999;stroke-width:0.6"/>
<path d="M457.4,754.6 A13,6.3 0 0 0 483.4,754.6" class="t" style="stroke:#222;stroke-width:1.0"/>
<path d="M458.5,757.4 A11.9,5.4 0 0 0 482.3,757.4" class="t" style="stroke:#999;stroke-width:0.6"/>
<path d="M457.4,759.6 A13,6.3 0 0 0 483.4,759.6" class="t" style="stroke:#222;stroke-width:1.0"/>
<path d="M458.5,762.4 A11.9,5.4 0 0 0 482.3,762.4" class="t" style="stroke:#999;stroke-width:0.6"/>
<path d="M457.4,764.6 A13,6.3 0 0 0 483.4,764.6" class="t" style="stroke:#222;stroke-width:1.0"/>
<path d="M458.5,767.4 A11.9,5.4 0 0 0 482.3,767.4" class="t" style="stroke:#999;stroke-width:0.6"/>
<path d="M457.4,769.6 A13,6.3 0 0 0 483.4,769.6" class="t" style="stroke:#222;stroke-width:1.0"/>
<path d="M458.5,772.4 A11.9,5.4 0 0 0 482.3,772.4" class="t" style="stroke:#999;stroke-width:0.6"/>
<path d="M457.4,774.6 A13,6.3 0 0 0 483.4,774.6" class="t" style="stroke:#222;stroke-width:1.0"/>
<path d="M458.5,777.4 A11.9,5.4 0 0 0 482.3,777.4" class="t" style="stroke:#999;stroke-width:0.6"/>
<path d="M457.4,779.6 A13,6.3 0 0 0 483.4,779.6" class="t" style="stroke:#222;stroke-width:1.0"/>
<ellipse cx="470.4" cy="719.2" rx="13.3" ry="7.5" class="f" style="stroke:#111;stroke-width:1.9"/>
<ellipse cx="470.6" cy="720.2" rx="8.1" ry="5" class="t" style="stroke-width:1.2;stroke:#222"/>
<path d="M462.8,722.5 A7.8,3.6 0 0 0 478.4,722.5" class="t" style="stroke:#666;stroke-width:0.8"/>
<path d="M458.5,724 L463,725.3" class="t" style="stroke:#111;stroke-width:1.6"/>
<line x1="470.3" y1="711" x2="470.3" y2="721" class="l"/>
<line x1="470.8" y1="805.4" x2="514.3" y2="830" class="l"/>
<line x1="514.3" y1="830" x2="520.6" y2="834" class="l"/>
<path d="M474,823.6 L556.5,873 Q560.1,875 560.1,879 L560.1,940 L545.6,948.8 L545.6,1031 C545,1038 539,1043 530,1044.5 C523,1045.3 516,1045 511,1043 L453.5,1011.3 C448,1008.5 444.7,1005 444.7,1000 L444.7,978.9 C444.7,975.5 446,973.5 448.9,970.6 C446,968.5 444.7,966 444.7,963 L444.7,916.5 L429.9,907.9 L429.9,846.5 Q429.9,843.5 432.5,842 L465,823.6 Q469.5,821 474,823.6 Z" class="o" />
<polyline points="429.9,843.5 522.4,897 560.1,875" class="t"/>
<line x1="522.4" y1="897" x2="522.4" y2="958.5" class="t"/>
<path d="M430.3,881 L455.9,894.4 Q459.5,896.5 459.5,900.5 L459.5,1011 Q459.5,1014 462,1015.5 L487.8,1029.4" class="t" />
<path d="M490.9,1027 L490.9,922 Q490.9,918 494,918.6 L522.4,934" class="t" />
<line x1="492.6" y1="945" x2="492.6" y2="1026" class="t"/>
<line x1="444.7" y1="916.5" x2="459.5" y2="924.8" class="t"/>
<path d="M490.9,942.5 L520.5,958.5 Q523,960 526,959.3 L545.6,948.8" class="t" />
<path d="M448.9,970.6 L459.5,976.5" class="t" />
<path d="M451.7,974.3 C451.5,979 452.5,982 455,984.5 L459.5,987.8" class="t" />
<path d="M445.2,982.6 L459.5,991.8" class="t" />
<path d="M490.9,997.4 L500,1001.1 C505,1004 511,1005.6 516,1006.5 C520,1007 524,1006 527,1003" class="t" />
<path d="M492.4,1011.3 L500,1011.1 C508,1014 516,1016.5 524.4,1016.7 L533.3,1018.9" class="t" />
<path d="M494.3,1013.1 L500,1016.7 L533.3,1022.2" class="t" />
<path d="M497,1011.3 L497,1000" class="t" />
<path d="M515.6,972.2 C519,971.8 522.2,971.1 525,969.5 C527.5,968 529.5,965.5 531.7,962.2" class="t" />
<path d="M520,978.3 L532.2,985" class="t" />
<ellipse cx="543.9" cy="971.1" rx="11.95" ry="16.4" class="f" style="stroke:#111;stroke-width:1.5"/>
<path d="M543.9,954.7 A11.95,16.4 0 0 1 543.9,987.5" class="t" style="stroke:#111;stroke-width:2"/>
<ellipse cx="543.3" cy="972.8" rx="8.9" ry="11.7" class="t" style="stroke-width:1.3;stroke:#111"/>
<ellipse cx="543.8" cy="973.2" rx="7.3" ry="9.9" class="t" style="stroke-width:0.7"/>
<ellipse cx="544.2" cy="973.5" rx="6" ry="8.4" class="t" style="stroke-width:0.7"/>
<ellipse cx="544.5" cy="973.8" rx="4.8" ry="7" class="t" style="stroke-width:0.7"/>
<path d="M527,1003 C529,999 532.5,996 537,995.5 L543.3,995.3 C549,995.3 553.3,1001 553.3,1008.3 C553.3,1015.5 549,1021.3 543.3,1021.5 L537.5,1021.5 C535,1021 534,1020 533.3,1018.9" class="f" style="stroke:#111;stroke-width:1.5"/>
<path d="M543.3,995.3 A10,13.1 0 0 1 543.3,1021.5" class="t" style="stroke:#111;stroke-width:2"/>
<path d="M543.3,995.3 A10,13.1 0 0 0 543.3,1021.5" class="t" />
<ellipse cx="543.3" cy="1009.7" rx="4.4" ry="5.3" class="t" style="stroke-width:1"/>
<ellipse cx="543.4" cy="1009.8" rx="3" ry="3.8" class="t" style="fill:#888;stroke-width:0.8"/>
<ellipse cx="470.3" cy="845.9" rx="22.4" ry="12.6" class="t" style="stroke:#111;stroke-width:1.6"/>
<path d="M455.5,857 C459,853.3 464.5,851.8 470.3,851.8 C476.5,851.8 482,853.5 485.5,856.5" class="t" style="stroke-width:1.5;stroke:#111"/>
<ellipse cx="520.6" cy="875.3" rx="22.4" ry="13" class="t" style="stroke:#111;stroke-width:1.6"/>
<path d="M505.5,886.8 C509,883 514.5,881.5 520.6,881.5 C527,881.5 532,883.2 535.5,886.2" class="t" style="stroke-width:1.5;stroke:#111"/>
<ellipse cx="465.8" cy="828.9" rx="3.4" ry="2" class="t" style="fill:#999;stroke:#222;stroke-width:0.9"/>
<ellipse cx="441.2" cy="843.2" rx="3.4" ry="2" class="t" style="fill:#999;stroke:#222;stroke-width:0.9"/>
<ellipse cx="549" cy="877.9" rx="3.4" ry="2" class="t" style="fill:#999;stroke:#222;stroke-width:0.9"/>
<ellipse cx="525.1" cy="891.2" rx="3.4" ry="2" class="t" style="fill:#999;stroke:#222;stroke-width:0.9"/>
<line x1="470.3" y1="787" x2="470.3" y2="845.5" class="l"/>
<polyline points="520.6,834 520.6,884" class="l"/>
<line x1="198.9" y1="425.5" x2="198.9" y2="431" class="l"/>
<line x1="198.9" y1="456.5" x2="198.9" y2="466" class="l"/>
<line x1="198.9" y1="526.5" x2="198.9" y2="541" class="l"/>
<line x1="198.9" y1="567.5" x2="198.9" y2="580" class="l"/>
<path d="M189.7,579.4 L189.7,629.4 L188.9,629.4 L188.9,636.5 A10,3.5 0 0 0 208.9,636.5 L208.9,629.4 L207.8,629.4 L207.8,579.4 C207.8,576 204,574.4 198.75,574.4 C193.5,574.4 189.7,576 189.7,579.4 Z" class="o" style="stroke-width:1.8"/>
<path d="M189.7,609.5 A9.05,2.6 0 0 0 207.8,609.5" class="t" style="stroke:#111;stroke-width:1.4"/>
<path d="M189.7,611.5 A9.05,2.6 0 0 0 207.8,611.5" class="t" style="stroke:#111;stroke-width:1.2"/>
<path d="M189.7,614.5 A9.05,2.6 0 0 0 207.8,614.5" class="t" style="stroke:#333;stroke-width:0.8"/>
<path d="M188.9,627 A10,3 0 0 0 208.9,627" class="t" style="stroke:#111;stroke-width:1.5"/>
<path d="M188.9,631.3 A10,3 0 0 0 208.9,631.3" class="t" style="stroke:#222;stroke-width:1"/>
<path d="M188.9,633.3 A10,3 0 0 0 208.9,633.3" class="t" style="stroke:#222;stroke-width:1"/>
<line x1="198.9" y1="576" x2="198.9" y2="579.5" class="l"/>
<path d="M173.3,547 L173.3,554.2 A25.3,13.6 0 0 0 223.9,554.2 L223.9,547 A25.3,13.6 0 0 0 173.3,547 Z" class="o"/>
<ellipse cx="198.6" cy="547" rx="25.3" ry="13.6" class="f" style="stroke:#111;stroke-width:1.9"/>
<ellipse cx="198.6" cy="549.2" rx="18.6" ry="9.2" class="t" style="stroke-width:1.1"/>
<path d="M180.5,551 A18.2,7.4 0 0 1 216.8,551" class="t" style="stroke-width:0.8"/>
<line x1="198.9" y1="541" x2="198.9" y2="548" class="l"/>
<path d="M173.5,500.5 L173.5,513.5 A25.3,13 0 0 0 224.1,513.5 L224.1,500.5 A25.3,13 0 0 0 173.5,500.5 Z" class="o"/>
<ellipse cx="198.8" cy="494.6" rx="25.3" ry="12.8" class="f" style="stroke:#111;stroke-width:1.9"/>
<path d="M173.5,494.6 A25.3,12.8 0 0 0 224.1,494.6" class="t" style="stroke:#111;stroke-width:2"/>
<path d="M173.5,501 A25.3,12.8 0 0 0 224.1,501" class="t" style="stroke:#222;stroke-width:1"/>
<path d="M174.3,502.8 A24.5,11.8 0 0 0 223.3,502.8" class="t" style="stroke:#999;stroke-width:2.2"/>
<path d="M173.5,506.5 A25.3,12.8 0 0 0 224.1,506.5" class="t" style="stroke:#111;stroke-width:1.3"/>
<path d="M173.5,494.6 L173.5,513.5" class="t" style="stroke:#111;stroke-width:1.9"/>
<path d="M224.1,494.6 L224.1,513.5" class="t" style="stroke:#111;stroke-width:1.9"/>
<path d="M180.35,474.4 L180.35,494 A18.65,10.65 0 0 0 217.65,494 L217.65,474.4 A18.65,10.65 0 0 0 180.35,474.4 Z" class="o"/>
<path d="M180.7,491.5 A18.3,10 0 0 0 217.3,491.5" class="t" style="stroke:#333;stroke-width:0.9"/>
<ellipse cx="199" cy="474.4" rx="18.65" ry="10.65" class="f" style="stroke:#111;stroke-width:1.9"/>
<ellipse cx="198.9" cy="475.4" rx="11.45" ry="6.4" class="t" style="stroke:#111;stroke-width:1.4"/>
<path d="M188.5,478 A10.4,4.3 0 0 0 209.3,478" class="t" style="stroke:#777;stroke-width:2"/>
<line x1="198.9" y1="466" x2="198.9" y2="480" class="l"/>
<path d="M186.3,448.5 L186.3,451.6 A12.8,5.2 0 0 0 211.7,451.6 L211.7,448.5 A12.8,5.2 0 0 0 186.3,448.5 Z" class="o" style="stroke-width:1.8"/>
<ellipse cx="199" cy="448.5" rx="12.7" ry="5.2" class="t" style="stroke:#111;stroke-width:1.6"/>
<ellipse cx="199" cy="448.7" rx="10.6" ry="3.9" class="t" style="stroke-width:0.8"/>
<path d="M186.3,435.4 L186.3,440.2 A12.8,5.9 0 0 0 211.9,440.2 L211.9,435.4 A12.8,5.9 0 0 0 186.3,435.4 Z" class="o" style="stroke-width:1.8"/>
<ellipse cx="199.1" cy="435.4" rx="12.8" ry="5.9" class="t" style="stroke:#111;stroke-width:1.7"/>
<ellipse cx="199.1" cy="435.6" rx="10.5" ry="4.3" class="t" style="stroke-width:0.9"/>
<path d="M191,440.3 A8.1,2.3 0 0 0 207.2,440.3" class="t" style="stroke:#777;stroke-width:1.6"/>
<line x1="198.9" y1="429" x2="198.9" y2="438" class="l"/>
<line x1="198.7" y1="693" x2="198.7" y2="701" class="l"/>
<line x1="198.7" y1="711" x2="198.7" y2="717" class="l"/>
<line x1="198.7" y1="742.5" x2="198.7" y2="750" class="l"/>
<line x1="198.7" y1="794.5" x2="198.7" y2="802" class="l"/>
<line x1="198.7" y1="811.5" x2="198.7" y2="818" class="l"/>
<path d="M190,705.5 L190,707 A8.7,4.4 0 0 0 207.4,707 L207.4,705.5 A8.7,4.4 0 0 0 190,705.5 Z" class="o" style="stroke-width:1.7"/>
<ellipse cx="198.7" cy="705.5" rx="8.7" ry="4.4" class="t" style="stroke:#111;stroke-width:1.6"/>
<ellipse cx="198.7" cy="706.3" rx="3.6" ry="1.9" class="t" style="stroke:#111;stroke-width:1.1"/>
<path d="M192.5,703.8 L204.5,707.8" class="t" style="stroke:#111;stroke-width:1.6"/>
<path d="M183.35,724.5 L183.35,735.2 A15.35,8 0 0 0 214.05,735.2 L214.05,724.5 A15.35,8 0 0 0 183.35,724.5 Z" class="o"/>
<ellipse cx="198.7" cy="724.5" rx="15.35" ry="8" class="f" style="stroke:#111;stroke-width:1.9"/>
<ellipse cx="198.7" cy="726.4" rx="12.7" ry="6.4" class="t" style="stroke-width:0.9"/>
<path d="M184.3,725.2 A14.4,7.6 0 0 0 213.1,725.2" class="t" style="stroke:#111;stroke-width:2.2"/>
<ellipse cx="198.7" cy="729.1" rx="5.2" ry="2.6" class="t" style="stroke-width:0.9"/>
<path d="M208.5,718.5 L210.5,720.5" class="t" style="stroke:#111;stroke-width:1.2"/>
<path d="M192,753 L192,791.5 A6.7,3.2 0 0 0 205.4,791.5 L205.4,753 A6.7,3.5 0 0 0 192,753 Z" class="o" style="stroke-width:1.6"/>
<ellipse cx="198.7" cy="753" rx="6.7" ry="3.5" class="t" style="stroke:#111;stroke-width:1.5"/>
<ellipse cx="198.7" cy="753.5" rx="4" ry="2" class="t" style="stroke-width:0.8"/>
<path d="M192.3,756 A6.4,2.8 0 0 0 205.1,756" class="t" style="stroke:#111;stroke-width:1.1"/>
<path d="M192.3,758.55 A6.4,2.8 0 0 0 205.1,758.55" class="t" style="stroke:#111;stroke-width:1.1"/>
<path d="M192.3,761.1 A6.4,2.8 0 0 0 205.1,761.1" class="t" style="stroke:#111;stroke-width:1.1"/>
<path d="M192.3,763.65 A6.4,2.8 0 0 0 205.1,763.65" class="t" style="stroke:#111;stroke-width:1.1"/>
<path d="M192.3,766.2 A6.4,2.8 0 0 0 205.1,766.2" class="t" style="stroke:#111;stroke-width:1.1"/>
<path d="M192.3,768.75 A6.4,2.8 0 0 0 205.1,768.75" class="t" style="stroke:#111;stroke-width:1.1"/>
<path d="M192.3,771.3 A6.4,2.8 0 0 0 205.1,771.3" class="t" style="stroke:#111;stroke-width:1.1"/>
<path d="M192.3,773.85 A6.4,2.8 0 0 0 205.1,773.85" class="t" style="stroke:#111;stroke-width:1.1"/>
<path d="M192.3,776.4 A6.4,2.8 0 0 0 205.1,776.4" class="t" style="stroke:#111;stroke-width:1.1"/>
<path d="M192.3,778.95 A6.4,2.8 0 0 0 205.1,778.95" class="t" style="stroke:#111;stroke-width:1.1"/>
<path d="M192.3,781.5 A6.4,2.8 0 0 0 205.1,781.5" class="t" style="stroke:#111;stroke-width:1.1"/>
<path d="M192.3,784.05 A6.4,2.8 0 0 0 205.1,784.05" class="t" style="stroke:#111;stroke-width:1.1"/>
<path d="M192.3,786.6 A6.4,2.8 0 0 0 205.1,786.6" class="t" style="stroke:#111;stroke-width:1.1"/>
<path d="M192.3,789.15 A6.4,2.8 0 0 0 205.1,789.15" class="t" style="stroke:#111;stroke-width:1.1"/>
<path d="M192.3,791.7 A6.4,2.8 0 0 0 205.1,791.7" class="t" style="stroke:#111;stroke-width:1.1"/>
<path d="M190.6,806.2 L190.6,807.6 A8.1,4.4 0 0 0 206.8,807.6 L206.8,806.2 A8.1,4.4 0 0 0 190.6,806.2 Z" class="o" style="stroke-width:1.7"/>
<ellipse cx="198.7" cy="806.2" rx="8.1" ry="4.4" class="t" style="stroke:#111;stroke-width:1.6"/>
<ellipse cx="198.7" cy="806.6" rx="4.6" ry="2.3" class="t" style="stroke-width:1.1;stroke:#111"/>
<ellipse cx="198.7" cy="806.8" rx="2.6" ry="1.2" class="t" style="stroke-width:0.7"/>
<path d="M194.4,820 L194.4,824.5 L195.7,825.7 L195.7,843.3 L195.3,843.3 L195.3,861.9 L193.4,863.5 L193.4,900 Q193.6,902.6 198.45,902.6 Q203.3,902.6 203.5,900 L203.5,863.5 L202.2,861.9 L202.2,843.3 L201.8,843.3 L201.8,825.7 L202.7,824.5 L202.7,820 A4.15,2 0 0 0 194.4,820 Z" class="o" style="stroke-width:1.6"/>
<path d="M194.4,820.5 A4.1,1.8 0 0 0 202.6,820.5" class="t" />
<path d="M195.5,840.6 A3,1.1 0 0 0 201.5,840.6" class="t" />
<path d="M195.5,842.2 A3,1.1 0 0 0 201.5,842.2" class="t" />
<path d="M193.4,866.5 A5.1,1.8 0 0 0 203.6,866.5" class="t" style="stroke:#111;stroke-width:1.2"/>
<path d="M193.4,870.3 A5.1,1.8 0 0 0 203.6,870.3" class="t" />
<path d="M193.4,877.8 A5.1,1.8 0 0 0 203.6,877.8" class="t" style="stroke:#111;stroke-width:1.1"/>
<path d="M193.4,882.3 A5.1,1.8 0 0 0 203.6,882.3" class="t" />
<path d="M193.4,884.3 A5.1,1.8 0 0 0 203.6,884.3" class="t" />
<ellipse cx="198.5" cy="879.6" rx="0.9" ry="0.6" class="t" style="fill:#222"/>
<path d="M193.6,889.5 A4.9,1.6 0 0 0 203.4,889.5" class="t" style="stroke:#333;stroke-width:0.8"/>
<path d="M193.6,890.65 A4.9,1.6 0 0 0 203.4,890.65" class="t" style="stroke:#333;stroke-width:0.8"/>
<path d="M193.6,891.8 A4.9,1.6 0 0 0 203.4,891.8" class="t" style="stroke:#333;stroke-width:0.8"/>
<path d="M193.6,892.95 A4.9,1.6 0 0 0 203.4,892.95" class="t" style="stroke:#333;stroke-width:0.8"/>
<path d="M193.6,894.1 A4.9,1.6 0 0 0 203.4,894.1" class="t" style="stroke:#333;stroke-width:0.8"/>
<path d="M193.6,895.25 A4.9,1.6 0 0 0 203.4,895.25" class="t" style="stroke:#333;stroke-width:0.8"/>
<path d="M193.6,896.4 A4.9,1.6 0 0 0 203.4,896.4" class="t" style="stroke:#333;stroke-width:0.8"/>
<path d="M193.6,897.55 A4.9,1.6 0 0 0 203.4,897.55" class="t" style="stroke:#333;stroke-width:0.8"/>
<!-- LABELS -->
<g id="labels" style="will-change:transform"><text x="635.30" y="119.80">5</text>
<text x="572.70" y="203.00">&#x2007;3</text>
<path d="M578.20,203.00 L576.60,203.00 L576.60,195.30 C575.90,196.00 575.10,196.30 574.30,196.50 L574.30,195.20 C575.60,194.90 576.60,194.10 577.00,192.60 L578.20,192.60 Z" fill="#151515" stroke="#151515" stroke-width="0.3"/>
<text x="621.30" y="265.80">4</text>
<text x="580.00" y="313.80">&#x2007;0</text>
<path d="M585.50,313.80 L583.90,313.80 L583.90,306.10 C583.20,306.80 582.40,307.10 581.60,307.30 L581.60,306.00 C582.90,305.70 583.90,304.90 584.30,303.40 L585.50,303.40 Z" fill="#151515" stroke="#151515" stroke-width="0.3"/>
<text x="579.40" y="355.00">&#x2007;&#x2007;</text>
<path d="M584.90,355.00 L583.30,355.00 L583.30,347.30 C582.60,348.00 581.80,348.30 581.00,348.50 L581.00,347.20 C582.30,346.90 583.30,346.10 583.70,344.60 L584.90,344.60 Z" fill="#151515" stroke="#151515" stroke-width="0.3"/>
<path d="M592.76,355.00 L591.16,355.00 L591.16,347.30 C590.46,348.00 589.66,348.30 588.86,348.50 L588.86,347.20 C590.16,346.90 591.16,346.10 591.56,344.60 L592.76,344.60 Z" fill="#151515" stroke="#151515" stroke-width="0.3"/>
<text x="430.50" y="361.90">9</text>
<text x="610.50" y="406.10">&#x2007;2</text>
<path d="M616.00,406.10 L614.40,406.10 L614.40,398.40 C613.70,399.10 612.90,399.40 612.10,399.60 L612.10,398.30 C613.40,398.00 614.40,397.20 614.80,395.70 L616.00,395.70 Z" fill="#151515" stroke="#151515" stroke-width="0.3"/>
<text x="570.80" y="434.20">3</text>
<text x="388.70" y="457.10">3</text>
<text x="600.60" y="525.80">2</text>
<text x="261.10" y="445.10">7</text>
<text x="512.30" y="750.90">8</text>
<text x="590.30" y="907.70">&#x2007;</text>
<path d="M595.80,907.70 L594.20,907.70 L594.20,900.00 C593.50,900.70 592.70,901.00 591.90,901.20 L591.90,899.90 C593.20,899.60 594.20,898.80 594.60,897.30 L595.80,897.30 Z" fill="#151515" stroke="#151515" stroke-width="0.3"/>
<text x="259.30" y="702.90">6</text>
<text x="127.80" y="424.80">7-3</text>
<text x="127.80" y="445.10">7-4</text>
<text x="129.00" y="498.10">7-&#x2007;</text>
<path d="M146.99,498.10 L145.39,498.10 L145.39,490.40 C144.69,491.10 143.89,491.40 143.09,491.60 L143.09,490.30 C144.39,490.00 145.39,489.20 145.79,487.70 L146.99,487.70 Z" fill="#151515" stroke="#151515" stroke-width="0.3"/>
<text x="128.40" y="542.00">7-2</text>
<text x="130.10" y="604.70">7-5</text>
<text x="128.20" y="695.80">6-6</text>
<text x="128.20" y="726.40">6-5</text>
<text x="128.00" y="772.20">6-4</text>
<text x="103.90" y="807.20">6-2,6-3</text>
<text x="131.40" y="875.30">6-&#x2007;</text>
<path d="M149.39,875.30 L147.79,875.30 L147.79,867.60 C147.09,868.30 146.29,868.60 145.49,868.80 L145.49,867.50 C146.79,867.20 147.79,866.40 148.19,864.90 L149.39,864.90 Z" fill="#151515" stroke="#151515" stroke-width="0.3"/></g>
<!-- LEADERS -->
<g id="leaders" class="l">
<line x1="588.7" y1="124.6" x2="628.9" y2="117.4"/>
<line x1="512.5" y1="198.3" x2="568.4" y2="198.2"/>
<line x1="572.9" y1="271.7" x2="613.7" y2="264"/>
<line x1="541.2" y1="313.2" x2="572.8" y2="313.2"/>
<line x1="546.5" y1="350.6" x2="578" y2="350.6"/>
<line x1="443.7" y1="357.2" x2="460.8" y2="366.4"/>
<line x1="591.3" y1="386.2" x2="608.4" y2="395.4"/>
<line x1="549.6" y1="414.4" x2="568.3" y2="424.5"/>
<line x1="400" y1="460.4" x2="417.4" y2="469"/>
<line x1="578.3" y1="505" x2="595.6" y2="513.6"/>
<line x1="483.4" y1="746" x2="505.8" y2="747.4"/>
<line x1="561.6" y1="904.4" x2="584" y2="904.6"/>
<line x1="149.3" y1="422.4" x2="186.4" y2="433.9"/>
<line x1="154" y1="443.2" x2="186.4" y2="449"/>
<line x1="151.6" y1="496.4" x2="173.6" y2="504.5"/>
<line x1="151.6" y1="541.5" x2="173.6" y2="549.6"/>
<line x1="152.8" y1="602.8" x2="189.8" y2="612"/>
<line x1="150.9" y1="693.1" x2="190.3" y2="705.9"/>
<line x1="150.9" y1="724.4" x2="183.3" y2="729.7"/>
<line x1="149.8" y1="771.4" x2="191.4" y2="773.7"/>
<line x1="150.9" y1="805.4" x2="191.4" y2="806.5"/>
<line x1="154.4" y1="874.1" x2="192.6" y2="872.5"/>
</g>

<!-- BRACKETS & ARROWS -->
<g class="b">
<polyline points="224.5,421.2 254.6,449 254.6,633 232.6,650.3"/>
<polyline points="219.2,678.1 250.4,705.9 250.4,888.7 228.4,906"/>
</g>
<g>
<line x1="267.1" y1="515.7" x2="400" y2="551.8" stroke="#333" stroke-width="1"/>
<polygon points="414.6,556.1 398.1,555.8 400.6,547.6" fill="#111"/>
<line x1="269.7" y1="772.8" x2="418" y2="687" stroke="#333" stroke-width="1"/>
<polygon points="429.3,679.7 419.3,691.8 414.8,685.6" fill="#111"/>
</g>

<!-- CENTER LINES -->
<g class="l" id="centers">
</g>

</svg>
</body></html>
